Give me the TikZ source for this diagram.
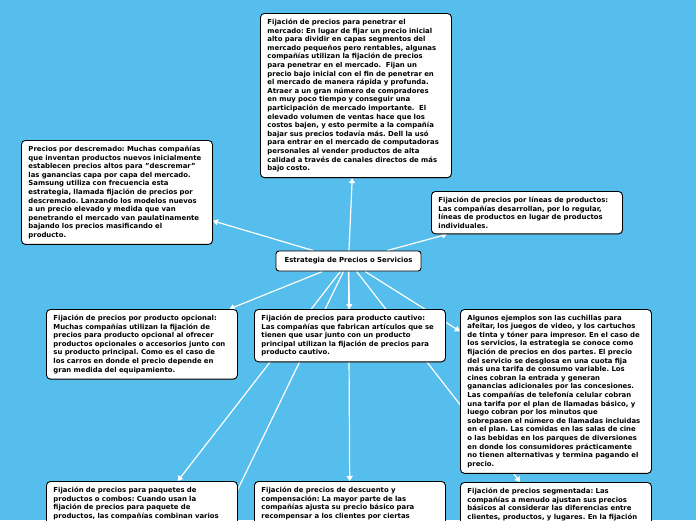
\documentclass[tikz,border=0pt]{standalone}
\usepackage{fontspec}
\setmainfont{DejaVu Sans}[BoldFont={DejaVu Sans Bold}]
\usetikzlibrary{arrows.meta,shadows}
\definecolor{fondo}{HTML}{56BEEC}
\pgfdeclarelayer{fondocapa}
\pgfdeclarelayer{lineas}
\pgfsetlayers{fondocapa,lineas,main}
\frenchspacing
\tikzset{
  caja/.style={draw=black, line width=0.9pt, fill=white, rounded corners=4pt,
    anchor=north west, inner xsep=7pt, inner ysep=5.5pt, text width=177pt,
    align=left, font=\fontsize{6.9}{8.6}\selectfont\bfseries,
    drop shadow={shadow xshift=0.6pt, shadow yshift=-0.8pt, opacity=0.35}},
  enlace/.style={draw=white, line width=1.2pt, -{Triangle[width=6pt,length=5pt]}}
}
\begin{document}
\begin{tikzpicture}[x=1pt,y=-1pt]
            \useasboundingbox (0,0) rectangle (696,520);
            \clip (0,0) rectangle (696,520);
            % nodo central
            \node[draw=black, line width=0.9pt, fill=white, rounded corners=3pt,
              minimum width=145pt, minimum height=20pt,
              font=\fontsize{6.9}{8.6}\selectfont\bfseries] (cen) at (348.5,261)
              {Estrategia de Precios o Servicios};
            % ramas
            \node[caja] (pen) at (260,13) {Fijación de precios para penetrar el\\
              mercado: En lugar de fijar un precio inicial\\
              alto para dividir en capas segmentos del\\
              mercado pequeños pero rentables, algunas\\
              compañías utilizan la fijación de precios\\
              para penetrar en el mercado.\ \ Fijan un\\
              precio bajo inicial con el fin de penetrar en\\
              el mercado de manera rápida y profunda.\\
              Atraer a un gran número de compradores\\
              en muy poco tiempo y conseguir una\\
              participación de mercado importante.\ \ El\\
              elevado volumen de ventas hace que los\\
              costos bajen, y esto permite a la compañía\\
              bajar sus precios todavía más. Dell la usó\\
              para entrar en el mercado de computadoras\\
              personales al vender productos de alta\\
              calidad a través de canales directos de más\\
              bajo costo.};
            \node[caja] (desc) at (21,140) {Precios por descremado: Muchas compañías\\
              que inventan productos nuevos inicialmente\\
              establecen precios altos para "descremar"\\
              las ganancias capa por capa del mercado.\\
              Samsung utiliza con frecuencia esta\\
              estrategia, llamada fijación de precios por\\
              descremado. Lanzando los modelos nuevos\\
              a un precio elevado y medida que van\\
              penetrando el mercado van paulatinamente\\
              bajando los precios masificando el\\
              producto.};
            \node[caja] (lin) at (431,191) {Fijación de precios por líneas de productos:\\
              Las compañías desarrollan, por lo regular,\\
              líneas de productos en lugar de productos\\
              individuales.};
            \node[caja] (opc) at (46,309) {Fijación de precios por producto opcional:\\
              Muchas compañías utilizan la fijación de\\
              precios para producto opcional al ofrecer\\
              productos opcionales o accesorios junto con\\
              su producto principal. Como es el caso de\\
              los carros en donde el precio depende en\\
              gran medida del equipamiento.};
            \node[caja] (cau) at (254,309) {Fijación de precios para producto cautivo:\\
              Las compañías que fabrican artículos que se\\
              tienen que usar junto con un producto\\
              principal utilizan la fijación de precios para\\
              producto cautivo.};
            \node[caja] (ejem) at (460,309) {Algunos ejemplos son las cuchillas para\\
              afeitar, los juegos de video, y los cartuchos\\
              de tinta y tóner para impresor. En el caso de\\
              los servicios, la estrategia se conoce como\\
              fijación de precios en dos partes. El precio\\
              del servicio se desglosa en una cuota fija\\
              más una tarifa de consumo variable. Los\\
              cines cobran la entrada y generan\\
              ganancias adicionales por las concesiones.\\
              Las compañías de telefonía celular cobran\\
              una tarifa por el plan de llamadas básico, y\\
              luego cobran por los minutos que\\
              sobrepasen el número de llamadas incluidas\\
              en el plan. Las comidas en las salas de cine\\
              o las bebidas en los parques de diversiones\\
              en donde los consumidores prácticamente\\
              no tienen alternativas y termina pagando el\\
              precio.};
            \node[caja] (paq) at (46,481) {Fijación de precios para paquetes de\\
              productos o combos: Cuando usan la\\
              fijación de precios para paquete de\\
              productos, las compañías combinan varios\\[40.5pt]\null};
            \node[caja] (dto) at (254,481) {Fijación de precios de descuento y\\
              compensación: La mayor parte de las\\
              compañías ajusta su precio básico para\\
              recompensar a los clientes por ciertas\\[40.5pt]\null};
            \node[caja] (seg) at (460,482) {Fijación de precios segmentada: Las\\
              compañías a menudo ajustan sus precios\\
              básicos al considerar las diferencias entre\\
              clientes, productos, y lugares. En la fijación\\[40.5pt]\null};
            \coordinate (mas) at (189,590);
            % conectores
            \begin{pgfonlayer}{lineas}
              \draw[enlace] (cen) -- (pen);
              \draw[enlace] (cen) -- (desc);
              \draw[enlace] (cen) -- (lin);
              \draw[enlace] (cen) -- (opc);
              \draw[enlace] (cen) -- (cau);
              \draw[enlace] (cen) -- (ejem);
              \draw[enlace] (cen) -- (paq);
              \draw[enlace] (cen) -- (dto);
              \draw[enlace] (cen) -- (seg);
              \draw[enlace] (cen) -- (mas);
            \end{pgfonlayer}
            \begin{pgfonlayer}{fondocapa}
              \fill[fondo] (0,0) rectangle (696,520);
            \end{pgfonlayer}
        \end{tikzpicture}
\end{document}
